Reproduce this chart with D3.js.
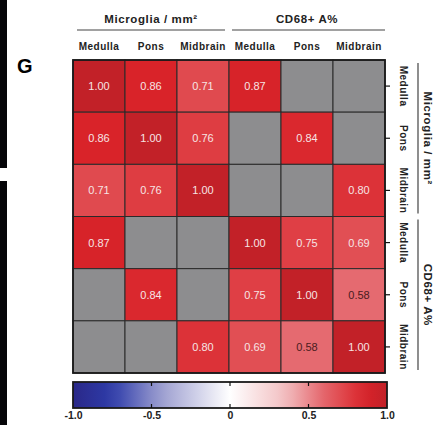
<!DOCTYPE html>
<html>
<head>
<meta charset="utf-8">
<script src="https://cdn.jsdelivr.net/npm/d3@7"></script>
<style>
body { margin: 0; background: #fff; }
svg text { font-family: "Liberation Sans", Arial, sans-serif; }
</style>
</head>
<body>
<div id="chart"></div>
<script>
var regions = ["Medulla", "Pons", "Midbrain", "Medulla", "Pons", "Midbrain"];
var groups = ["Microglia / mm\u00b2", "CD68+ A%"];
// correlation matrix, null = not shown (grey)
var values = [
  [1.00, 0.86, 0.71, 0.87, null, null],
  [0.86, 1.00, 0.76, null, 0.84, null],
  [0.71, 0.76, 1.00, null, null, 0.80],
  [0.87, null, null, 1.00, 0.75, 0.69],
  [null, 0.84, null, 0.75, 1.00, 0.58],
  [null, null, 0.80, 0.69, 0.58, 1.00]
];
var barTicks = [-1, -0.5, 0, 0.5, 1];
var barLabels = ["-1.0", "-0.5", "0", "0.5", "1.0"];

var W = 437, H = 425;
var svg = d3.select("#chart").append("svg")
    .attr("width", W).attr("height", H);

// piece of the neighbouring panel at the left edge
svg.append("rect").attr("x", 0).attr("y", 0).attr("width", 7).attr("height", 168).attr("fill", "#050508");
svg.append("rect").attr("x", 0).attr("y", 181).attr("width", 7).attr("height", 244).attr("fill", "#050508");

svg.append("text").attr("x", 17).attr("y", 73)
    .attr("font-size", 20).attr("font-weight", "bold").text("G");

var gridLeft = 73, gridTop = 60, size = 312;
var idx = d3.range(regions.length);
var x = d3.scaleBand().domain(idx).range([gridLeft, gridLeft + size]);
var y = d3.scaleBand().domain(idx).range([gridTop, gridTop + size + 1]);

var color = d3.scaleLinear()
    .domain([-1, -0.75, -0.45, 0, 0.35, 0.58, 0.72, 0.86, 1])
    .range(["#2a2888", "#2e3caa", "#9a9ccf", "#ffffff", "#f2c0c2", "#e56a70", "#e0474c", "#d92329", "#c22128"]);

var cells = [];
values.forEach(function (row, i) {
  row.forEach(function (v, j) { cells.push({r: i, c: j, v: v}); });
});

var g = svg.append("g");
g.selectAll("rect").data(cells).enter().append("rect")
    .attr("x", function (d) { return x(d.c); })
    .attr("y", function (d) { return y(d.r); })
    .attr("width", x.bandwidth())
    .attr("height", y.bandwidth())
    .attr("fill", function (d) { return d.v == null ? "#8d8d8f" : color(d.v); })
    .attr("stroke", "#2a2a2a").attr("stroke-width", 1);

g.selectAll("text").data(cells.filter(function (d) { return d.v != null; }))
  .enter().append("text")
    .attr("x", function (d) { return x(d.c) + x.bandwidth() / 2; })
    .attr("y", function (d) { return y(d.r) + y.bandwidth() / 2 + 4; })
    .attr("text-anchor", "middle").attr("font-size", 11)
    .attr("fill", function (d) { return d.v < 0.65 ? "#4a1c1e" : "#f6e4e4"; })
    .text(function (d) { return d.v.toFixed(2); });

svg.append("rect").attr("x", gridLeft).attr("y", gridTop).attr("width", size).attr("height", size + 1)
    .attr("fill", "none").attr("stroke", "#1a1a1a").attr("stroke-width", 1.8);

// top axis (labels only)
var topAxis = svg.append("g").attr("transform", "translate(0," + gridTop + ")")
    .call(d3.axisTop(x).tickSize(0).tickPadding(10).tickFormat(function (i) { return regions[i]; }));
topAxis.select(".domain").remove();
topAxis.selectAll("text").attr("font-size", 10).attr("font-weight", "bold")
    .attr("letter-spacing", 0.5).attr("fill", "#222");

// right axis
var rightAxis = svg.append("g").attr("transform", "translate(" + (gridLeft + size) + ",0)")
    .call(d3.axisRight(y).tickSize(5).tickFormat(function (i) { return regions[i]; }));
rightAxis.select(".domain").remove();
rightAxis.selectAll("line").attr("stroke", "#111").attr("stroke-width", 1.2);
rightAxis.selectAll("text")
    .attr("font-size", 10).attr("font-weight", "bold").attr("fill", "#222")
    .attr("letter-spacing", 0.5)
    .attr("text-anchor", "middle").attr("dy", 0).attr("x", 0).attr("y", 0)
    .attr("transform", "translate(15,0) rotate(90)");

// group headers
[0, 1].forEach(function (k) {
  var x0 = x(k * 3), x1 = x(k * 3 + 2) + x.bandwidth();
  svg.append("line").attr("x1", x0 + (k ? 3 : 4)).attr("x2", x1 - (k ? 0 : 4))
      .attr("y1", 30).attr("y2", 30).attr("stroke", "#444").attr("stroke-width", 1.2);
  svg.append("text").attr("x", (x0 + x1) / 2).attr("y", 23)
      .attr("text-anchor", "middle").attr("font-size", 11.5).attr("font-weight", "bold")
      .attr("letter-spacing", 0.6).attr("fill", "#222").text(groups[k]);

  var y0 = y(k * 3), y1 = y(k * 3 + 2) + y.bandwidth();
  svg.append("line").attr("x1", 418).attr("x2", 418)
      .attr("y1", y0 + 3).attr("y2", y1 - 3).attr("stroke", "#444").attr("stroke-width", 1.2);
  svg.append("text").attr("transform", "translate(424," + (y0 + y1) / 2 + ") rotate(90)")
      .attr("text-anchor", "middle").attr("font-size", 11.5).attr("font-weight", "bold")
      .attr("letter-spacing", 0.6).attr("fill", "#222").text(groups[k]);
});

// colour bar
var bx = d3.scaleLinear().domain([-1, 1]).range([73, 387]);
var barTop = 382, barH = 26;
var grad = svg.append("defs").append("linearGradient").attr("id", "cbar");
d3.range(0, 1.0001, 0.05).forEach(function (t) {
  grad.append("stop").attr("offset", t).attr("stop-color", color(-1 + 2 * t));
});
svg.append("rect").attr("x", bx(-1)).attr("y", barTop).attr("width", bx(1) - bx(-1)).attr("height", barH)
    .attr("fill", "url(#cbar)").attr("stroke", "#1a1a1a").attr("stroke-width", 1.8);

var inner = barTicks.slice(1, -1);
svg.selectAll(".tkTop").data(inner).enter().append("line")
    .attr("x1", bx).attr("x2", bx).attr("y1", barTop).attr("y2", barTop + 4)
    .attr("stroke", "#111").attr("stroke-width", 1.2);
svg.selectAll(".tkBot").data(inner).enter().append("line")
    .attr("x1", bx).attr("x2", bx).attr("y1", barTop + barH - 4).attr("y2", barTop + barH)
    .attr("stroke", "#111").attr("stroke-width", 1.2);

var barAxis = svg.append("g").attr("transform", "translate(0," + (barTop + barH) + ")")
    .call(d3.axisBottom(bx).tickValues(barTicks).tickSize(0).tickPadding(4)
      .tickFormat(function (d, i) { return barLabels[i]; }));
barAxis.select(".domain").remove();
barAxis.selectAll("text").attr("font-size", 10.5).attr("font-weight", "bold").attr("fill", "#222");
</script>
</body>
</html>
